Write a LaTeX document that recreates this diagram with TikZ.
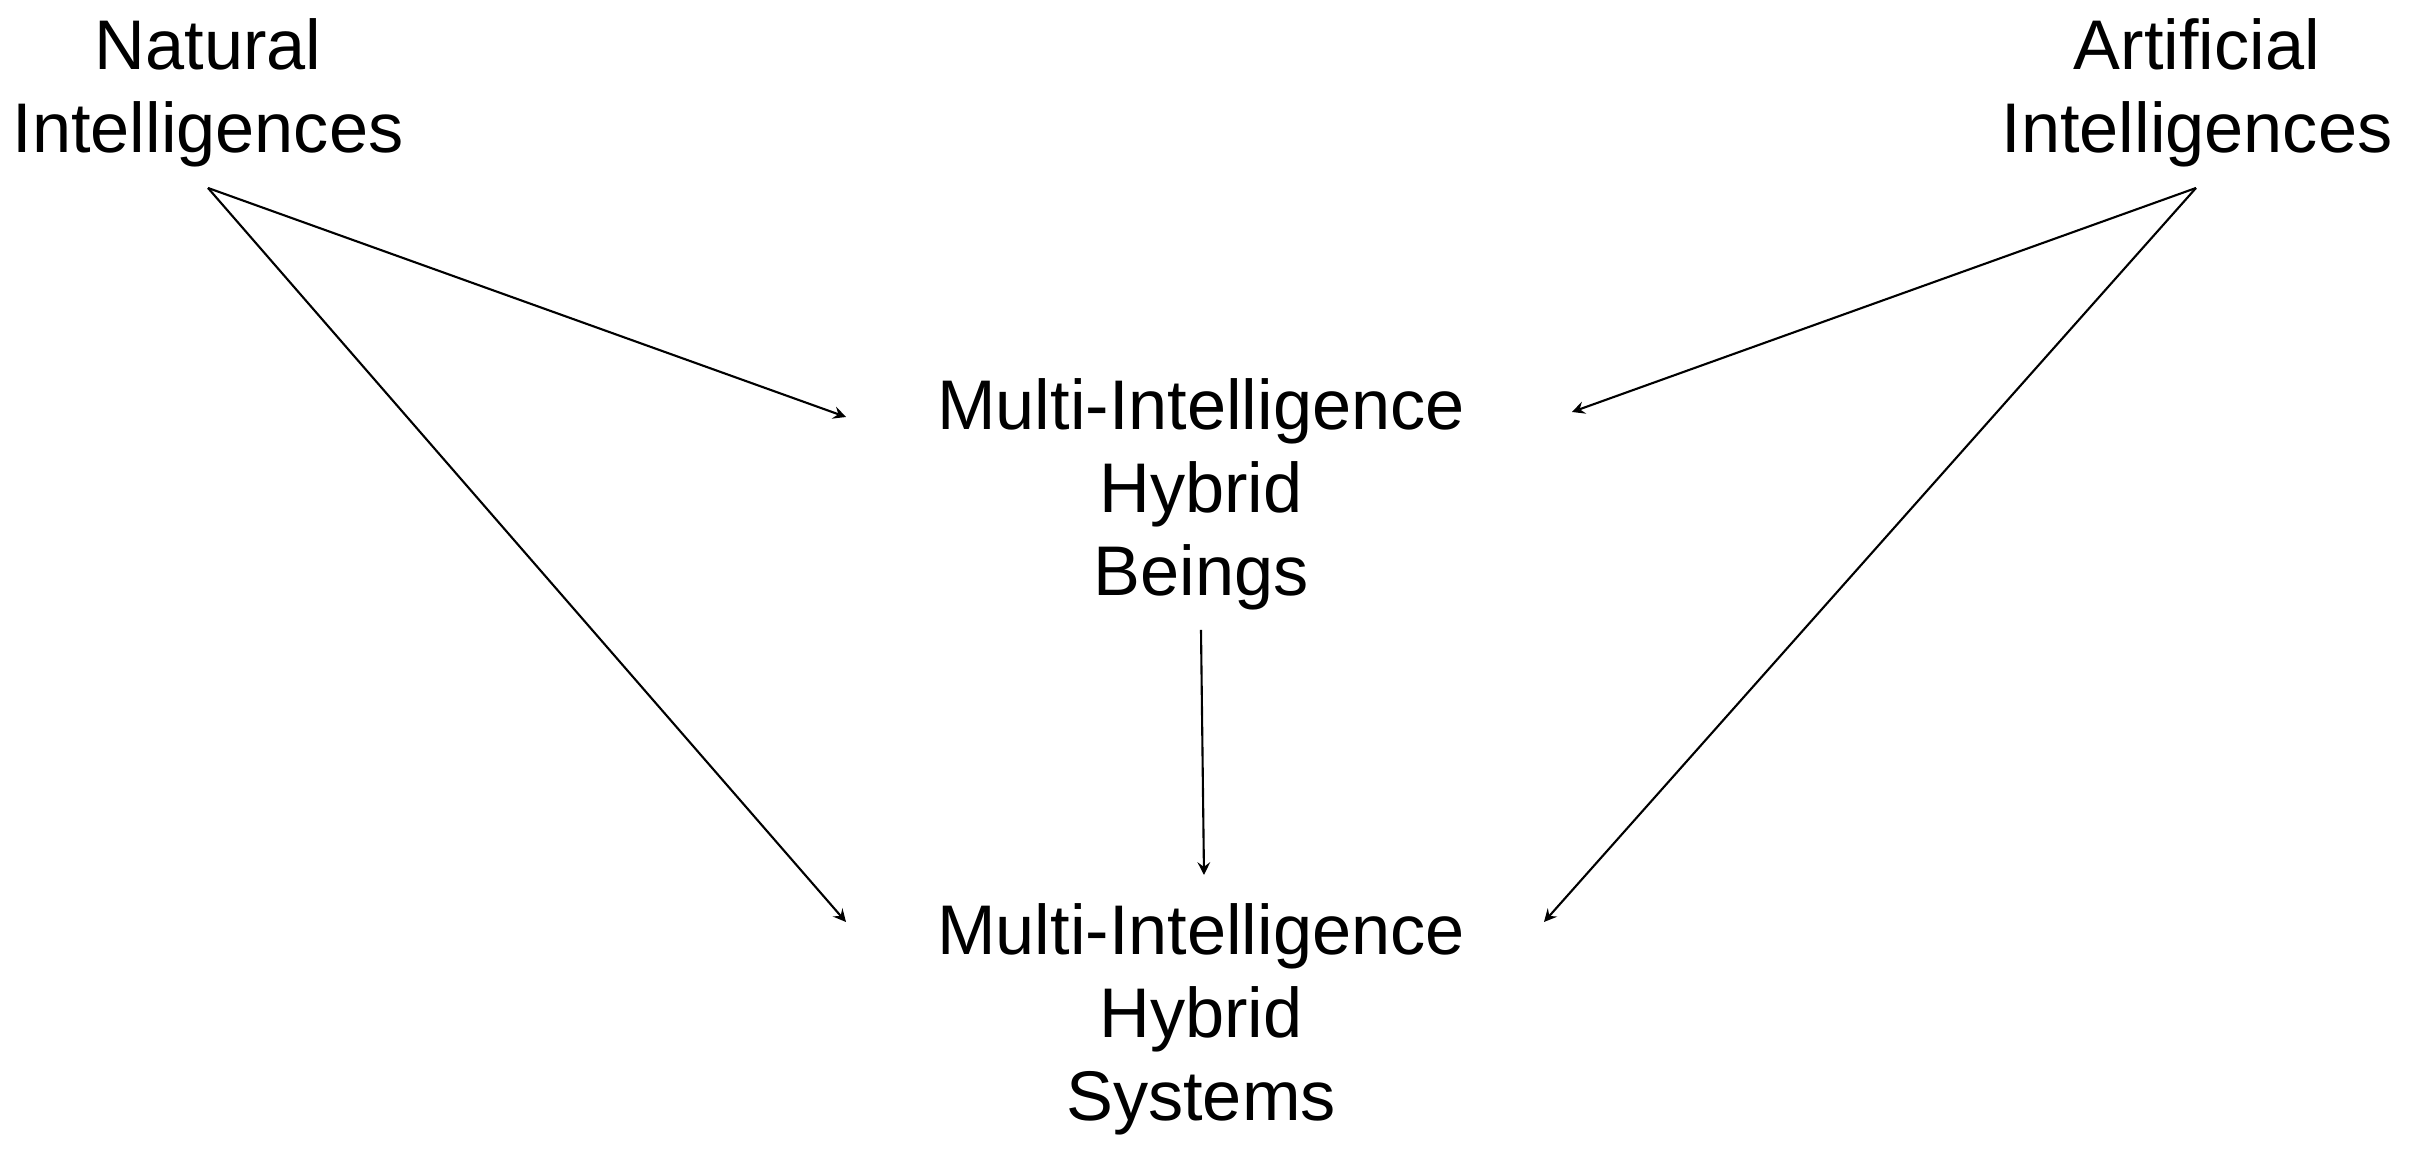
\documentclass[tikz,border=0pt]{standalone}
\usepackage{fontspec}
\setmainfont{Liberation Sans}
\usetikzlibrary{positioning, arrows}

\begin{document}
\begin{tikzpicture}[
					every node/.style={align=center, font=\fontsize{20}{23.6}\selectfont},
					>=stealth]
				\useasboundingbox (0,0) rectangle (24.21,11.61);
				\node (nat) at (2.08,10.68) {Natural\\Intelligences};
				\node (art) at (21.97,10.68) {Artificial\\Intelligences};
				\node (beings) at (12.01,6.67) {Multi-Intelligence\\Hybrid\\Beings};
				\node (systems) at (12.01,1.42) {Multi-Intelligence\\Hybrid\\Systems};

				\coordinate (natout) at (2.08,9.73);
				\coordinate (artout) at (21.96,9.73);
				\coordinate (bl) at (8.46,7.44);
				\coordinate (br) at (15.72,7.49);
				\coordinate (sl) at (8.46,2.39);
				\coordinate (sr) at (15.44,2.39);
				\coordinate (bout) at (12.01,5.31);
				\coordinate (sin) at (12.04,2.86);
				\foreach \from/\to in {natout/bl, natout/sl, artout/br, artout/sr, bout/sin}
					\draw[->, semithick] (\from) -- (\to);
			\end{tikzpicture}
\end{document}
